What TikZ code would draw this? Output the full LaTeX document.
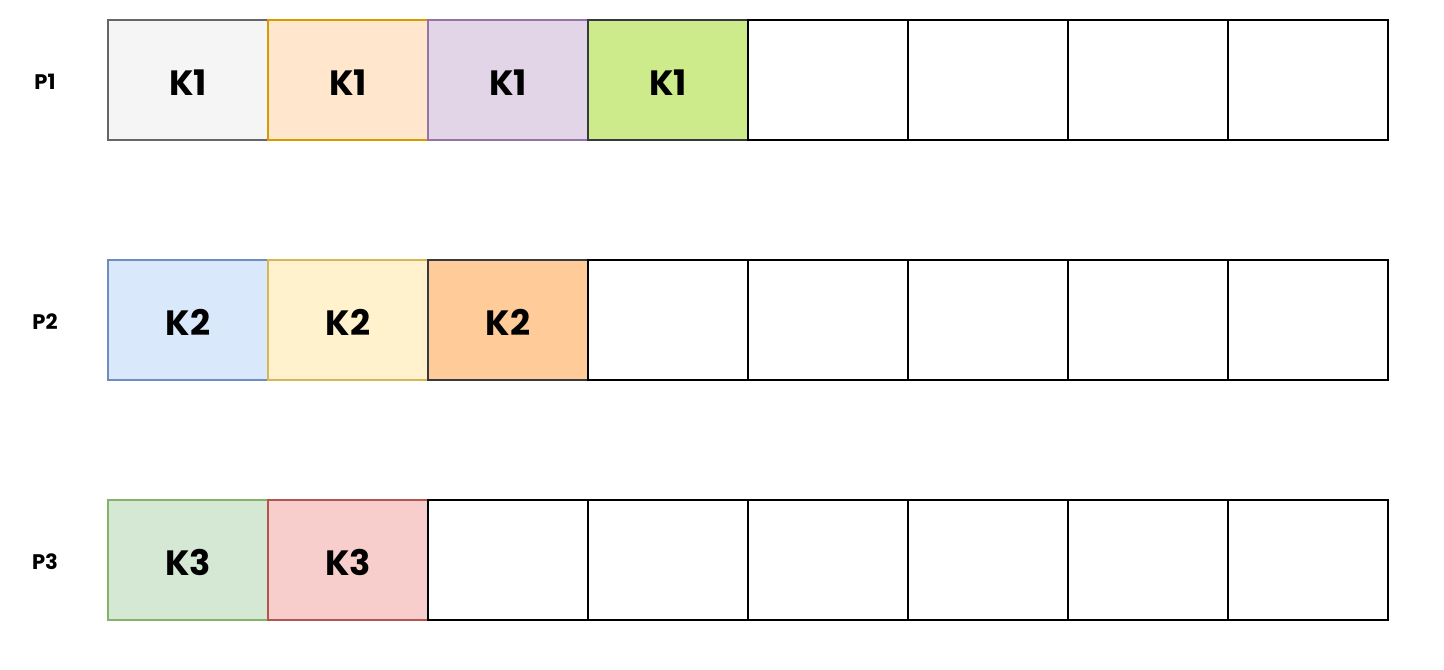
\documentclass[tikz,border=0pt]{standalone}
\usepackage{fontspec}
\setmainfont{Poppins}
\usepackage{xcolor}
\usepackage{tikz}
\usetikzlibrary{positioning}
\definecolor{GreyF}{HTML}{F5F5F5}\definecolor{GreyD}{HTML}{666666}
\definecolor{PeachF}{HTML}{FFE6CC}\definecolor{PeachD}{HTML}{D79B00}
\definecolor{LilacF}{HTML}{E1D5E7}\definecolor{LilacD}{HTML}{9673A6}
\definecolor{LimeF}{HTML}{CDEB8B}\definecolor{Dark}{HTML}{36393D}
\definecolor{BlueF}{HTML}{DAE8FC}\definecolor{BlueD}{HTML}{6C8EBF}
\definecolor{CreamF}{HTML}{FFF2CC}\definecolor{CreamD}{HTML}{D6B656}
\definecolor{ApricotF}{HTML}{FFCC99}
\definecolor{MintF}{HTML}{D5E8D4}\definecolor{MintD}{HTML}{82B366}
\definecolor{RoseF}{HTML}{F8CECC}\definecolor{RoseD}{HTML}{B85450}

\begin{document}
\begin{tikzpicture}[
    c/.style={draw=black,line width=1.1pt,minimum width=3.2cm,minimum height=2.4cm,inner sep=0pt,outer sep=0pt,text height=18pt,text depth=0.6pt,font=\fontsize{20}{24}\selectfont\bfseries},
    p/.style={text height=11pt,text depth=0.4pt,font=\fontsize{12}{14}\selectfont\bfseries}]
    \useasboundingbox (0,0) rectangle (28.88,13.4);
    % partition 1
    \node[p] (p1) at (0.9,11.8) {P1};
    \node[c,draw=GreyD,fill=GreyF] (a1) at (3.76,11.8) {K1};
    \node[c,draw=PeachD,fill=PeachF,right=0pt of a1] (a2) {K1};
    \node[c,draw=LilacD,fill=LilacF,right=0pt of a2] (a3) {K1};
    \node[c,draw=Dark,fill=LimeF,right=0pt of a3] (a4) {K1};
    \node[c,right=0pt of a4] (a5) {};
    \node[c,right=0pt of a5] (a6) {};
    \node[c,right=0pt of a6] (a7) {};
    \node[c,right=0pt of a7] (a8) {};
    % partition 2
    \node[p] (p2) at (0.9,7.0) {P2};
    \node[c,draw=BlueD,fill=BlueF] (b1) at (3.76,7.0) {K2};
    \node[c,draw=CreamD,fill=CreamF,right=0pt of b1] (b2) {K2};
    \node[c,draw=Dark,fill=ApricotF,right=0pt of b2] (b3) {K2};
    \node[c,right=0pt of b3] (b4) {};
    \node[c,right=0pt of b4] (b5) {};
    \node[c,right=0pt of b5] (b6) {};
    \node[c,right=0pt of b6] (b7) {};
    \node[c,right=0pt of b7] (b8) {};
    % partition 3
    \node[p] (p3) at (0.9,2.2) {P3};
    \node[c,draw=MintD,fill=MintF] (d1) at (3.76,2.2) {K3};
    \node[c,draw=RoseD,fill=RoseF,right=0pt of d1] (d2) {K3};
    \node[c,right=0pt of d2] (d3) {};
    \node[c,right=0pt of d3] (d4) {};
    \node[c,right=0pt of d4] (d5) {};
    \node[c,right=0pt of d5] (d6) {};
    \node[c,right=0pt of d6] (d7) {};
    \node[c,right=0pt of d7] (d8) {};
\end{tikzpicture}
\end{document}
